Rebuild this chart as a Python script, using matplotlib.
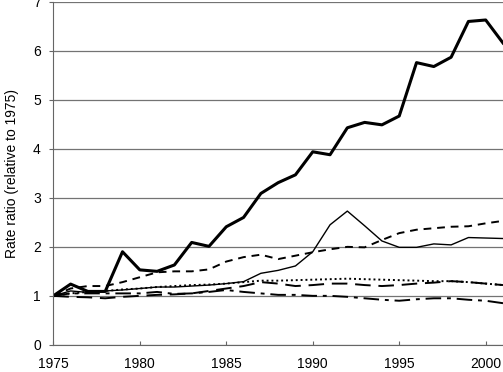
import numpy as np
import matplotlib as mpl; mpl.use('Agg'); import matplotlib.pyplot as plt
mpl.rcParams.update({'font.family':'sans-serif','font.sans-serif':['Liberation Sans','DejaVu Sans'],'font.size':10})

years = np.arange(1975, 2002)
thick = [1.0, 1.24, 1.09, 1.09, 1.9, 1.53, 1.50, 1.63, 2.09, 2.01, 2.41, 2.60, 3.09, 3.31, 3.47,
         3.94, 3.88, 4.43, 4.54, 4.49, 4.67, 5.76, 5.68, 5.87, 6.60, 6.63, 6.16]
thin = [1.0, 1.10, 1.07, 1.10, 1.12, 1.15, 1.18, 1.18, 1.20, 1.22, 1.25, 1.29, 1.46, 1.52, 1.61,
        1.90, 2.45, 2.73, 2.43, 2.12, 1.99, 1.99, 2.06, 2.04, 2.19, 2.18, 2.17]
dashed = [1.0, 1.15, 1.20, 1.20, 1.28, 1.38, 1.48, 1.50, 1.50, 1.54, 1.70, 1.79, 1.84, 1.75, 1.82,
          1.89, 1.95, 2.00, 1.99, 2.14, 2.28, 2.35, 2.38, 2.41, 2.42, 2.48, 2.53]
dotted = [1.0, 1.05, 1.08, 1.10, 1.13, 1.15, 1.18, 1.20, 1.22, 1.23, 1.25, 1.28, 1.31, 1.31, 1.32,
          1.33, 1.34, 1.35, 1.34, 1.33, 1.32, 1.31, 1.30, 1.30, 1.28, 1.25, 1.22]
longdash = [1.0, 0.98, 0.97, 0.95, 0.98, 1.0, 1.02, 1.03, 1.05, 1.10, 1.15, 1.20, 1.28, 1.25, 1.20,
            1.22, 1.25, 1.25, 1.22, 1.20, 1.22, 1.25, 1.27, 1.30, 1.28, 1.25, 1.22]
dashdot = [1.0, 1.05, 1.05, 1.05, 1.05, 1.05, 1.08, 1.04, 1.05, 1.08, 1.12, 1.08, 1.05, 1.02, 1.02,
           1.0, 1.0, 0.98, 0.95, 0.92, 0.90, 0.93, 0.95, 0.95, 0.92, 0.90, 0.85]

fig = plt.figure(figsize=(5.03, 3.72), dpi=100)
ax = fig.add_axes([0.106, 0.073, 0.894, 0.922])
ax.yaxis.grid(True, color='0.45', lw=0.9)
ax.set_axisbelow(True)
ax.plot(years, thick, color='k', lw=2.2)
ax.plot(years, thin, color='k', lw=1.0)
ax.plot(years, dashed, color='k', lw=1.4, ls=(0, (4, 3)))
ax.plot(years, dotted, color='k', lw=1.4, ls=(0, (1, 1.5)))
ax.plot(years, longdash, color='k', lw=1.4, ls=(0, (8, 4)))
ax.plot(years, dashdot, color='k', lw=1.4, ls=(0, (8, 3, 2, 3)))
ax.set_xlim(1975, 2001); ax.set_ylim(0, 7)
ax.set_xticks(range(1975, 2001, 5)); ax.set_yticks(range(0, 8))
ax.set_ylabel('Rate ratio (relative to 1975)', labelpad=10)
for s in ['top', 'right']: ax.spines[s].set_visible(False)
ax.tick_params(axis='y', length=3, color='0.4', pad=6)
ax.tick_params(axis='x', length=3, color='0.4', direction='in', pad=9)
ax.spines['left'].set_color('0.4'); ax.spines['bottom'].set_color('0.4')
fig.savefig('out.png', dpi=100)
